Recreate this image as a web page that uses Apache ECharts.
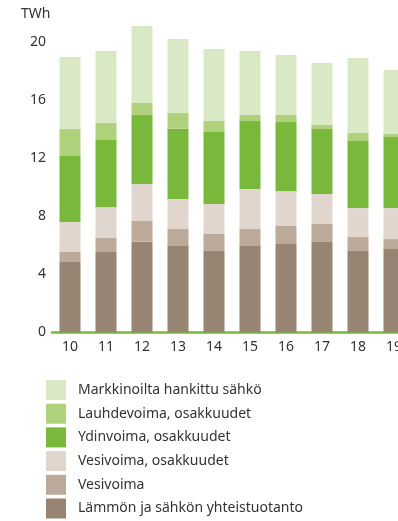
<!DOCTYPE html>
<html>
<head>
<meta charset="utf-8">
<script src="https://cdn.jsdelivr.net/npm/echarts@6/dist/echarts.min.js"></script>
<style>
  html, body { margin: 0; padding: 0; background: #fff; }
  #chart { width: 398px; height: 521px; }
</style>
</head>
<body>
<div id="chart"></div>
<script>
// Years (20xx) on the category axis
const years = ['10', '11', '12', '13', '14', '15', '16', '17', '18', '19'];

// Electricity sources in TWh, bottom of the stack first
const chp        = [4.85, 5.54, 6.25, 5.95, 5.61, 5.95, 6.09, 6.23, 5.61, 5.74];
const hydro      = [0.69, 0.96, 1.43, 1.17, 1.17, 1.17, 1.24, 1.24, 0.96, 0.69];
const hydroShare = [2.07, 2.12, 2.55, 2.07, 2.07, 2.76, 2.39, 2.07, 2.00, 2.14];
const nuclear    = [4.55, 4.64, 4.76, 4.85, 4.96, 4.69, 4.78, 4.48, 4.62, 4.90];
const condensing = [1.88, 1.20, 0.82, 1.08, 0.76, 0.42, 0.49, 0.28, 0.55, 0.21];
const market     = [4.95, 4.94, 5.31, 5.11, 4.97, 4.41, 4.13, 4.27, 5.18, 4.41];

const yTicks = [0, 4, 8, 12, 16, 20];

const FONT = 'Noto Sans, sans-serif';
const TEXT = '#333333';

const seriesDefs = [
  { name: 'Lämmön ja sähkön yhteistuotanto', data: chp,        color: '#978472' },
  { name: 'Vesivoima',                        data: hydro,      color: '#bbaa9a' },
  { name: 'Vesivoima, osakkuudet',            data: hydroShare, color: '#e0d6cd' },
  { name: 'Ydinvoima, osakkuudet',            data: nuclear,    color: '#78b83a' },
  { name: 'Lauhdevoima, osakkuudet',          data: condensing, color: '#afd17c' },
  { name: 'Markkinoilta hankittu sähkö',      data: market,     color: '#d9e8c5' }
];

const chart = echarts.init(document.getElementById('chart'), null, { renderer: 'canvas' });

chart.setOption({
  animation: false,
  backgroundColor: '#ffffff',
  // the plot runs past the right edge, so the last bar is cut off
  grid: { left: 52, top: 42.3, width: 360, height: 290, containLabel: false, outerBoundsMode: 'none' },
  graphic: [{
    type: 'text',
    left: 21,
    top: 7,
    style: { text: 'TWh', fontFamily: FONT, fontSize: 14, fill: TEXT }
  }],
  legend: {
    orient: 'vertical',
    left: 46,
    top: 380,
    padding: 0,
    itemWidth: 20,
    itemHeight: 20,
    itemGap: 3.7,
    icon: 'rect',
    selectedMode: false,
    data: seriesDefs.map(s => s.name).reverse(),
    textStyle: { fontFamily: FONT, fontSize: 14, color: TEXT, padding: [0, 0, 0, 7] }
  },
  xAxis: {
    type: 'category',
    data: years,
    boundaryGap: true,
    axisLine: { show: true, lineStyle: { color: '#78b83a', width: 2.5 } },
    axisTick: { show: false },
    axisLabel: { fontFamily: FONT, fontSize: 14, color: TEXT, margin: 8 }
  },
  yAxis: {
    type: 'value',
    min: yTicks[0],
    max: yTicks[yTicks.length - 1],
    interval: 4,
    axisLine: { show: false },
    axisTick: { show: false },
    splitLine: { show: false },
    axisLabel: { fontFamily: FONT, fontSize: 14, color: TEXT, margin: 6 }
  },
  series: seriesDefs.map(s => ({
    name: s.name,
    type: 'bar',
    stack: 'total',
    barWidth: 21,
    clip: false,
    data: s.data,
    itemStyle: { color: s.color }
  }))
});
</script>
</body>
</html>
